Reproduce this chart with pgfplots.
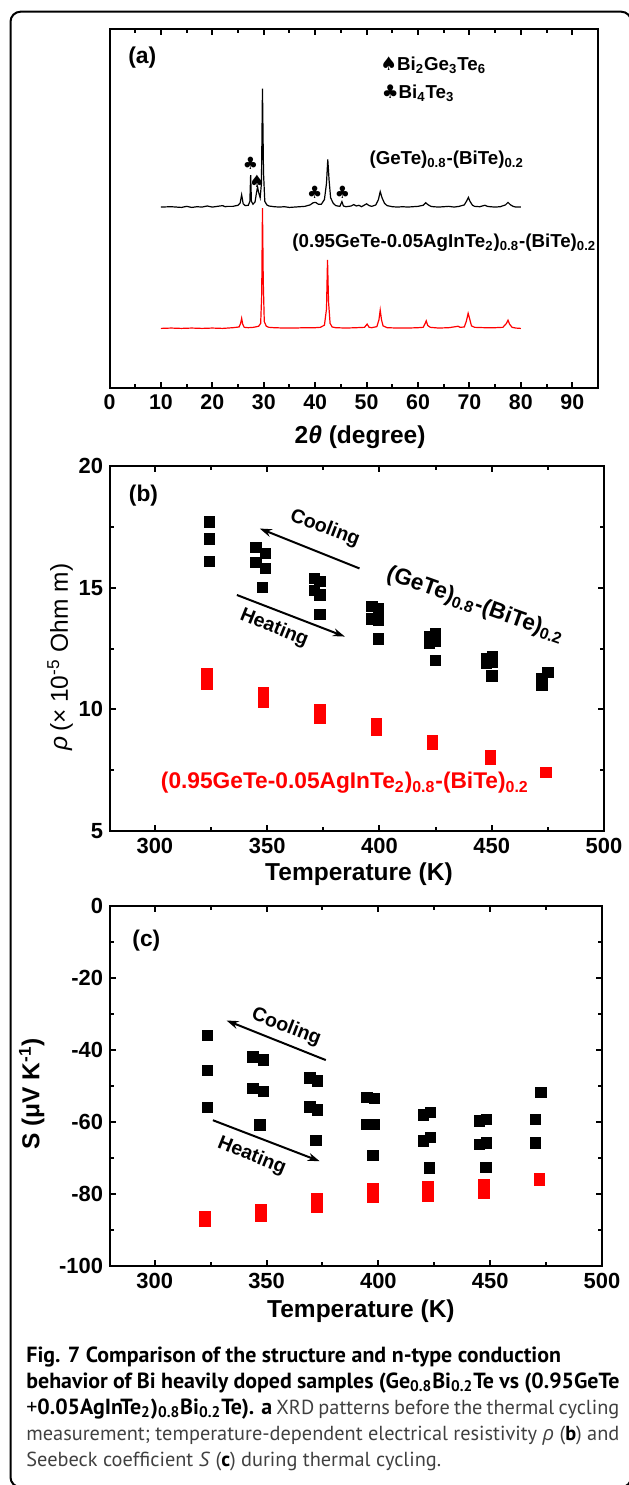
\documentclass[border=0pt]{standalone}
\usepackage{fontspec}
\setmainfont{Liberation Sans}
\newfontfamily\capfont{PT Sans}
\newfontfamily\grkfont{Open Sans}
\newfontfamily\symfont{DejaVu Sans}
\usepackage{pgfplots}
\pgfplotsset{compat=1.18}
\usetikzlibrary{arrows.meta}

\newcommand\sub[1]{\textsubscript{#1}}
\newcommand\fontA{\fontsize{9.4}{11}\selectfont\bfseries}
\newcommand\fontB{\fontsize{11.4}{13}\selectfont\bfseries}
\newcommand\fontC{\fontsize{9.8}{11}\selectfont\bfseries}
\newcommand\capB{\fontsize{11}{13.1}\selectfont\bfseries}
\newcommand\capR{\fontsize{10.2}{13.1}\selectfont\mdseries\color{black!75}}
\newcommand\capline[2][s]{\makebox[296.5bp][#1]{#2}}

\pgfplotsset{
  panel/.style={
    scale only axis,
    axis line style={line width=1bp},
    every tick/.style={black, line width=1bp},
    major tick length=3bp, minor tick length=1.8bp,
    tick align=inside,
    /pgf/number format/assume math mode=true,
    tick label style={font=\fontsize{11}{12}\selectfont\bfseries},
    label style={font=\fontsize{12.3}{14}\selectfont\bfseries},
    clip=false,
  },
  blk/.style={only marks, mark=square*, mark size=2.6bp, black},
  rd/.style={only marks, mark=square*, mark size=2.6bp, red},
}
\tikzset{arr/.style={line width=1bp, -{Stealth[length=6bp,width=4bp]}}}

\begin{document}
\begin{tikzpicture}
\useasboundingbox (0,0) rectangle (314.5bp,-742.5bp);
\draw[line width=1bp, rounded corners=5bp] (5.25bp,-5.85bp) rectangle (315.6bp,-743.6bp);

% (a) XRD
\begin{axis}[panel,
  at={(54.75bp,-194bp)}, anchor=south west,
  width=244.25bp, height=179.5bp,
  xmin=0, xmax=95, ymin=0, ymax=100,
  xtick={0,10,...,90}, minor x tick num=1,
  ytick=\empty,
  tick label style={font=\fontsize{10.7}{12}\selectfont\bfseries},
  xlabel={2\textit{θ} (degree)},
  xlabel style={at={(axis description cs:0.513,-0.136)}, anchor=center},
]
\addplot[black, line width=0.6bp] coordinates {
(10,50.4) (12,50.5) (14,50.3) (15,50.6) (16,50.3) (17,50.5) (18,50.4) (19,50.7)
(20,50.4) (21,50.6) (22,50.8) (22.5,50.5) (23,50.6) (24,50.6) (25,50.9) (25.4,51.5)
(25.7,53.8) (26.0,51.3) (26.4,50.8) (27.0,50.9) (27.3,52) (27.45,59.3) (27.6,52)
(27.9,51.2) (28.3,51.8) (28.6,54.5) (28.8,56) (29.0,54.5) (29.3,53) (29.55,57)
(29.75,83.4) (29.95,60) (30.2,52) (30.6,51) (31,50.7) (32,50.5) (33,50.4) (34,50.5)
(35,50.3) (36,50.4) (37,50.5) (38,50.6) (39,51) (39.6,51.6) (40.1,51.7) (40.6,51.2)
(41.2,51.2) (41.8,52.5) (42.2,57) (42.45,63.7) (42.7,58) (43.0,53) (43.5,51.5)
(44,50.8) (44.8,50.6) (45.2,51.9) (45.5,50.7) (46,50.5) (47,50.7) (47.5,51.1)
(48,50.7) (48.5,50.9) (49,50.5) (50,51.3) (50.5,50.8) (51,50.6) (51.8,51)
(52.3,52.5) (52.65,54.7) (53.0,53) (53.5,51.4) (54,50.8) (55,50.5) (56,50.4)
(57,50.5) (58,50.4) (59,50.5) (60,50.6) (61,50.9) (61.5,51.6) (61.9,51.1)
(62.5,50.6) (63,50.5) (64,50.4) (65,50.5) (66,50.6) (67,50.4) (68,50.6) (69,51)
(69.5,52.2) (69.8,53.1) (70.1,52) (70.6,50.9) (71,50.6) (72,50.5) (73,50.9)
(73.5,50.6) (74,50.5) (75,50.4) (76,50.5) (77,51) (77.5,51.7) (78,51) (78.5,50.6)
(79,50.4) (80,50.4)};
\addplot[red, line width=0.6bp] coordinates {
(10,16.6) (12,16.7) (14,16.6) (16,16.7) (18,16.6) (20,16.7) (22,16.6) (24,16.8)
(25.2,17.0) (25.5,18) (25.7,19.4) (25.9,17.8) (26.2,16.9) (27,16.8) (28,16.9)
(29,17.2) (29.4,18) (29.6,26) (29.75,50.1) (29.9,30) (30.1,18.5) (30.5,17.2)
(31,16.9) (32,16.8) (34,16.7) (36,16.7) (38,16.8) (40,16.8) (41,16.9) (41.8,17.5)
(42.2,22) (42.4,35.7) (42.6,24) (42.9,18) (43.3,17) (44,16.8) (46,16.7) (48,16.8)
(49.6,16.9) (50.1,17.8) (50.5,16.9) (51,16.8) (52,17.1) (52.4,19) (52.65,21.7)
(52.9,19) (53.2,17.3) (54,16.8) (56,16.7) (58,16.7) (60,16.8) (61,16.9) (61.4,18)
(61.6,18.7) (61.9,17.4) (62.4,16.9) (64,16.7) (66,16.8) (67.8,17.2) (68.2,16.9)
(69,17) (69.4,18.6) (69.75,20.8) (70.0,19.5) (70.4,17.3) (71,16.9) (73,16.8)
(75,16.8) (76.5,16.9) (77.2,18) (77.5,18.9) (77.8,17.8) (78.3,16.9) (79,16.7)
(80,16.6)};
\node[anchor=west, font=\fontsize{11.5}{13}\selectfont\bfseries] at (axis cs:2.3,92) {(a)};
\node[anchor=west, font=\fontA] at (axis cs:51.3,90) {{\symfont ♠}Bi\sub{2}Ge\sub{3}Te\sub{6}};
\node[anchor=west, font=\fontA] at (axis cs:51.6,82.2) {{\symfont ♣}Bi\sub{4}Te\sub{3}};
\node[anchor=west, font=\fontA] at (axis cs:49.2,63.5) {(GeTe)\sub{0.8}-(BiTe)\sub{0.2}};
\node[anchor=west, font=\fontA] at (axis cs:34.2,40.4) {(0.95GeTe-0.05AgInTe\sub{2})\sub{0.8}-(BiTe)\sub{0.2}};
\node[font=\fontsize{8.5}{9}\symfont] at (axis cs:27.4,62.7) {♣};
\node[font=\fontsize{8.5}{9}\symfont] at (axis cs:28.7,57.6) {♠};
\node[font=\fontsize{8.5}{9}\symfont] at (axis cs:39.9,54.5) {♣};
\node[font=\fontsize{8.5}{9}\symfont] at (axis cs:45.3,54.5) {♣};
\end{axis}

% (b) resistivity
\begin{axis}[panel,
  at={(55bp,-415.5bp)}, anchor=south west,
  width=247bp, height=182.5bp,
  xmin=280, xmax=500, ymin=5, ymax=20,
  xtick={300,350,...,500}, minor x tick num=1,
  ytick={5,10,15,20}, minor y tick num=1,
  xlabel={Temperature (K)},
  xlabel style={at={(axis description cs:0.504,-0.118)}, anchor=center},
  ylabel={\mdseries\textit{ρ}\,(× 10\textsuperscript{-5} Ohm m)},
  ylabel style={at={(axis description cs:-0.101,0.477)}, anchor=center},
]
\addplot[blk] coordinates {
(324.3,17.7) (324.3,17.0) (324.3,16.07)
(345,16.66) (349.2,16.41) (345,16.03) (349.2,15.79) (347.9,15.0)
(370.9,15.38) (373.5,15.25) (370.9,14.9) (373.5,14.7) (373.4,13.91)
(396.6,14.22) (399.5,14.13) (396.6,13.72) (399.5,13.65) (399.4,12.9)
(422.2,13.0) (422.2,12.85) (422.2,12.7) (425,13.1) (425,12.8) (424.9,12.0)
(447.7,12.1) (447.7,11.9) (450.2,12.15) (450.2,11.95) (450,11.38)
(472.4,11.25) (472.4,11.0) (475,11.52)};
\addplot[rd] coordinates {
(323.2,11.45) (323.2,11.25) (323.2,11.05)
(348.3,10.7) (348.3,10.5) (348.3,10.3)
(373.5,10.0) (373.5,9.8) (373.5,9.65)
(398.7,9.4) (398.7,9.15)
(423.7,8.72) (423.7,8.55)
(449.3,8.1) (449.3,7.95)
(474.2,7.4)};
\node[anchor=west, font=\fontB] at (axis cs:285.3,18.8) {(b)};
\draw[arr] (axis cs:391.1,15.79) -- (axis cs:346.7,17.43);
\node[rotate=-21, font=\fontC] at (axis cs:375.7,17.43) {Cooling};
\draw[arr] (axis cs:336.5,14.70) -- (axis cs:384.6,12.99);
\node[rotate=-22, font=\fontC] at (axis cs:353.1,13.33) {Heating};
\node[rotate=-19.6, font=\fontB] at (axis cs:442.7,14.29) {(GeTe)\sub{0.8}-(BiTe)\sub{0.2}};
\node[red, font=\fontB] at (axis cs:384.6,6.98) {(0.95GeTe-0.05AgInTe\sub{2})\sub{0.8}-(BiTe)\sub{0.2}};
\end{axis}

% (c) Seebeck
\begin{axis}[panel,
  at={(55bp,-633bp)}, anchor=south west,
  width=246bp, height=180bp,
  xmin=280, xmax=500, ymin=-100, ymax=0,
  xtick={300,350,...,500}, minor x tick num=1,
  ytick={-100,-80,...,0}, minor y tick num=1,
  xlabel={Temperature (K)},
  xlabel style={at={(axis description cs:0.51,-0.125)}, anchor=center},
  ylabel={S (μV K\textsuperscript{-1})},
  ylabel style={at={(axis description cs:-0.159,0.478)}, anchor=center},
]
\addplot[blk] coordinates {
(323.6,-36.0) (323.6,-45.6) (323.6,-56.0)
(343.9,-41.9) (348.6,-42.7) (343.9,-50.6) (348.6,-51.5) (347,-60.8)
(369.3,-47.8) (372.8,-48.6) (369.3,-55.8) (372.8,-56.6) (372,-65.1)
(394.8,-53.2) (398.3,-53.5) (394.8,-60.7) (398.3,-60.7) (397.5,-69.2)
(420.1,-58.0) (423.3,-57.4) (420.1,-65.3) (423.3,-64.2) (422.9,-72.7)
(445.1,-59.7) (448.4,-59.3) (445.1,-66.2) (448.4,-65.8) (448,-72.6)
(470.2,-59.3) (470.2,-65.8) (472.6,-51.8)};
\addplot[rd] coordinates {
(322.5,-86.3) (322.5,-87.5)
(347.5,-84.2) (347.5,-85.3) (347.5,-86.3)
(372.5,-81.2) (372.5,-82.5) (372.5,-83.7)
(397.5,-78.5) (397.5,-79.7) (397.5,-80.9)
(422.2,-78.0) (422.2,-79.2) (422.2,-80.5)
(447.2,-77.3) (447.2,-78.5) (447.2,-79.8)
(472.1,-75.8) (472.1,-76.2)};
\node[anchor=west, font=\fontB] at (axis cs:286.9,-9.5) {(c)};
\draw[arr] (axis cs:376.5,-42.8) -- (axis cs:332.1,-31.8);
\node[rotate=-21, font=\fontC] at (axis cs:358.8,-33.7) {Cooling};
\draw[arr] (axis cs:326.0,-59.5) -- (axis cs:373.8,-70.9);
\node[rotate=-22, font=\fontC] at (axis cs:343.4,-69.5) {Heating};
\end{axis}

\node[anchor=north west, inner sep=0, align=left,
  font=\capfont\fontsize{10.2}{13.1}\selectfont] at (13bp,-673bp) {%
\capline[l]{\capB Fig. 7 Comparison of the structure and n-type conduction}\\
\capline{\capB behavior of Bi heavily doped samples (Ge\sub{0.8}Bi\sub{0.2}Te vs (0.95GeTe}\\
\capline{\capB{\mdseries +}0.05AgInTe\sub{2})\sub{0.8}Bi\sub{0.2}Te). a\capR{} XRD patterns before the thermal cycling}\\
\capline{\capR measurement; temperature-dependent electrical resistivity {\grkfont\itshape ρ} ({\bfseries\color{black}b}) and}\\
\capline[l]{\capR Seebeck coefficient \textit{S} ({\bfseries\color{black}c}) during thermal cycling.}};
\end{tikzpicture}
\end{document}
